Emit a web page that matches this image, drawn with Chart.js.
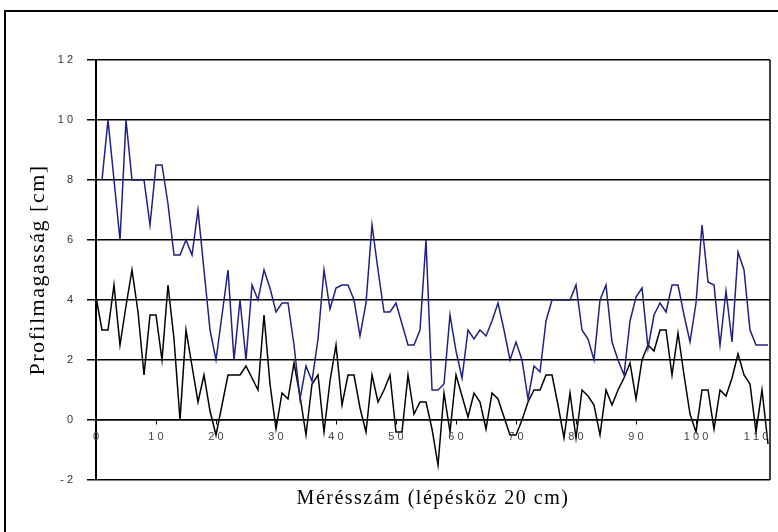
<!DOCTYPE html>
<html>
<head>
<meta charset="utf-8">
<title>Profilmagasság</title>
<script src="https://cdn.jsdelivr.net/npm/chart.js@4/dist/chart.umd.min.js"></script>
<style>
  body { margin: 0; background: #fff; }
  #wrap { position: relative; width: 778px; height: 532px; overflow: hidden; }
  #keret { position: absolute; left: 4px; top: 10px; width: 790px; height: 540px; border: 2px solid #000; box-sizing: border-box; pointer-events: none; }
</style>
</head>
<body>
<div id="wrap">
  <canvas id="profilChart" width="778" height="532"></canvas>
  <div id="keret"></div>
</div>
<script>
// tengely feliratok
const xTickek = [0, 10, 20, 30, 40, 50, 60, 70, 80, 90, 100, 110];
const yTickek = [-2, 0, 2, 4, 6, 8, 10, 12];

// felső (kék) profil, cm – az első mérés hiányzik
const kekProfil = [
  null, 8, 10, 8, 6, 10, 8, 8, 8, 6.5,
  8.5, 8.5, 7.2, 5.5, 5.5, 6, 5.5, 7, 5, 3,
  2, 3.5, 5, 2, 4, 2, 4.5, 4, 5, 4.4,
  3.6, 3.9, 3.9, 2.5, 0.7, 1.8, 1.3, 2.7, 5, 3.7,
  4.4, 4.5, 4.5, 4, 2.8, 3.9, 6.5, 5, 3.6, 3.6,
  3.9, 3.2, 2.5, 2.5, 3, 6, 1, 1, 1.2, 3.5,
  2.3, 1.4, 3, 2.7, 3, 2.8, 3.3, 3.9, 3, 2,
  2.6, 2, 0.7, 1.8, 1.6, 3.3, 4, 4, 4, 4,
  4.5, 3, 2.7, 2, 4, 4.5, 2.6, 2, 1.5, 3.3,
  4.1, 4.4, 2.4, 3.5, 3.9, 3.6, 4.5, 4.5, 3.5, 2.6,
  3.9, 6.5, 4.6, 4.5, 2.5, 4.3, 2.6, 5.6, 5, 3,
  2.5, 2.5, 2.5
];

// alsó (fekete) profil, cm
const feketeProfil = [
  4.1, 3, 3, 4.5, 2.5, 3.8, 5, 3.6, 1.5, 3.5,
  3.5, 2, 4.5, 2.7, 0, 3, 1.8, 0.6, 1.5, 0.3,
  -0.5, 0.5, 1.5, 1.5, 1.5, 1.8, 1.4, 1, 3.5, 1.2,
  -0.3, 0.9, 0.7, 1.9, 0.8, -0.5, 1.2, 1.5, -0.4, 1.3,
  2.5, 0.5, 1.5, 1.5, 0.4, -0.4, 1.5, 0.6, 1, 1.5,
  -0.4, -0.4, 1.5, 0.2, 0.6, 0.6, -0.3, -1.5, 0.9, -0.4,
  1.5, 0.8, 0.1, 0.9, 0.6, -0.3, 0.9, 0.7, 0.1, -0.5,
  -0.5, 0, 0.6, 1, 1, 1.5, 1.5, 0.5, -0.6, 0.9,
  -0.6, 1, 0.8, 0.5, -0.5, 1, 0.5, 1, 1.4, 1.9,
  0.7, 2, 2.5, 2.3, 3, 3, 1.5, 2.9, 1.5, 0.2,
  -0.4, 1, 1, -0.3, 1, 0.8, 1.4, 2.2, 1.5, 1.2,
  -0.4, 1, -0.8
];

const pontok = arr => arr.map((v, i) => ({ x: i, y: v }));
const ritkitott = v => String(v).split('').join(' ');

const sansFont = { family: "'Liberation Sans', Arial, sans-serif", size: 11 };
const serifFont = "'Liberation Serif', 'Times New Roman', serif";

// a tengelycímek kissé ritkítva; a tick feliratok (z: 1) már e nélkül készülnek
const betukoz = {
  id: 'betukoz',
  beforeDraw(chart) { chart.ctx.letterSpacing = '1.5px'; },
  beforeDatasetsDraw(chart) { chart.ctx.letterSpacing = '0px'; }
};

// jobb oldali keret a rajzterület körül
const rajzKeret = {
  id: 'rajzKeret',
  beforeDatasetsDraw(chart) {
    const { ctx, chartArea: a } = chart;
    ctx.save();
    ctx.strokeStyle = '#000';
    ctx.lineWidth = 1.5;
    ctx.beginPath();
    ctx.moveTo(a.right, a.top);
    ctx.lineTo(a.right, a.bottom);
    ctx.stroke();
    ctx.restore();
  }
};

const ctx = document.getElementById('profilChart').getContext('2d');

new Chart(ctx, {
  type: 'line',
  data: {
    datasets: [{
      data: pontok(kekProfil),
      borderColor: '#202080',
      borderWidth: 1.5,
      pointRadius: 0,
      tension: 0
    }, {
      data: pontok(feketeProfil),
      borderColor: '#000',
      borderWidth: 1.5,
      pointRadius: 0,
      tension: 0
    }]
  },
  options: {
    responsive: false,
    animation: false,
    layout: { padding: { left: 4, top: 60, right: 8, bottom: 0 } },
    plugins: {
      legend: { display: false },
      tooltip: { enabled: false },
      title: {
        display: true,
        position: 'bottom',
        fullSize: false,
        text: 'Mérésszám (lépésköz 20 cm)',
        color: '#000',
        font: { family: serifFont, size: 20, weight: 'normal' },
        padding: { top: 7, bottom: 21 }
      }
    },
    scales: {
      x: {
        type: 'linear',
        position: { y: 0 },
        min: 0,
        max: 112.33,
        afterBuildTicks: s => { s.ticks = xTickek.map(v => ({ value: v })); },
        grid: { drawOnChartArea: false, tickLength: 4, color: '#000' },
        border: { display: true, color: '#000', width: 1.5 },
        ticks: { z: 1, color: '#444', font: sansFont, padding: 6, maxRotation: 0, autoSkip: false, callback: ritkitott }
      },
      y: {
        min: -2,
        max: 12,
        afterBuildTicks: s => { s.ticks = yTickek.map(v => ({ value: v })); },
        afterFit: s => { s.width = 92; },
        grid: { color: '#000', lineWidth: 1.5, tickLength: 9 },
        border: { color: '#000', width: 2 },
        ticks: { z: 1, color: '#333', font: sansFont, padding: 14, callback: ritkitott },
        title: {
          display: true,
          text: 'Profilmagasság [cm]',
          color: '#000',
          font: { family: serifFont, size: 22 },
          padding: { top: 21, bottom: 0 }
        }
      }
    }
  },
  plugins: [betukoz, rajzKeret]
});
</script>
</body>
</html>
